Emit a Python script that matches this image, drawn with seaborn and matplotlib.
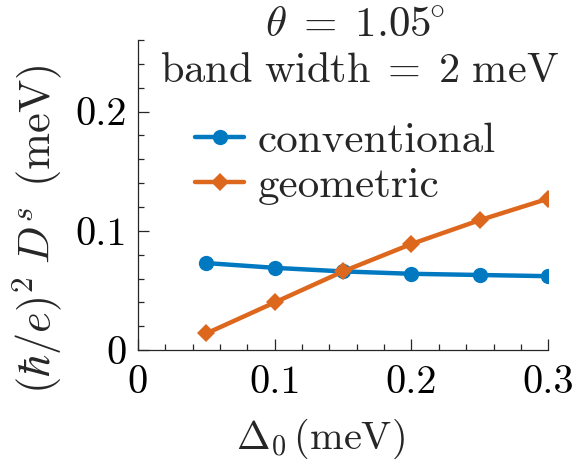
import numpy as np
import pandas as pd
import seaborn as sns
import matplotlib.pyplot as plt
from matplotlib.ticker import MultipleLocator

# ------------------- DATA -------------------

delta0 = [0.05, 0.10, 0.15, 0.20, 0.25, 0.30]
conventional = [0.073, 0.069, 0.066, 0.064, 0.063, 0.062]
geometric = [0.014, 0.040, 0.066, 0.089, 0.109, 0.127]
series_names = ["conventional", "geometric"]
x_ticks = [0, 0.1, 0.2, 0.3]
y_ticks = [0, 0.1, 0.2]

df = pd.DataFrame({
    "delta0": delta0 * 2,
    "Ds": conventional + geometric,
    "kind": [series_names[0]] * len(delta0) + [series_names[1]] * len(delta0),
})

# ------------------- STYLE -------------------

sns.set_style("ticks")
plt.rcParams["font.family"] = ["cmr10", "DejaVu Serif"]
plt.rcParams["mathtext.fontset"] = "cm"
plt.rcParams["axes.unicode_minus"] = False
plt.rcParams["axes.formatter.use_mathtext"] = True

blue = "#0079C1"
orange = "#DE671E"

# ------------------- PLOT -------------------

fig = plt.figure(figsize=(5.82, 4.65), dpi=100)
ax = fig.add_axes([0.237, 0.247, 0.705, 0.667])

sns.lineplot(
    data=df, x="delta0", y="Ds", hue="kind", style="kind",
    palette={"conventional": blue, "geometric": orange},
    markers={"conventional": "o", "geometric": "D"},
    dashes=False, linewidth=3.2, markersize=11, markeredgewidth=0,
    ax=ax,
)
# diamonds a bit smaller than the circles
for ln in ax.lines:
    if ln.get_marker() == "D":
        ln.set_markersize(9.6)

ax.set_xlim(0, 0.3)
ax.set_ylim(0, 0.26)
ax.set_xticks(x_ticks)
ax.set_xticklabels(["0", "0.1", "0.2", "0.3"])
ax.set_yticks(y_ticks)
ax.set_yticklabels(["0", "0.1", "0.2"])
ax.xaxis.set_minor_locator(MultipleLocator(0.02))
ax.yaxis.set_minor_locator(MultipleLocator(0.02))
ax.tick_params(which="major", direction="in", length=8, width=0.9, labelsize=29,
               colors="#262626", labelcolor="black")
ax.tick_params(axis="x", which="major", pad=11)
ax.tick_params(axis="y", which="major", pad=8)
ax.tick_params(which="minor", direction="in", length=4, width=0.9, colors="#262626")
for s in ["top", "right"]:
    ax.spines[s].set_visible(False)
for s in ["left", "bottom"]:
    ax.spines[s].set_color("#262626")
    ax.spines[s].set_linewidth(0.9)

ax.set_xlabel(r"$\Delta_0\,(\mathrm{meV})$", fontsize=29)
ax.xaxis.set_label_coords(0.444, -0.215)
ax.set_ylabel(r"$(\hbar/e)^2\;D^s\;\,(\mathrm{meV})$", fontsize=32)
ax.yaxis.set_label_coords(-0.18, 0.39)

ax.text(0.53, 1.045, r"$\theta\;=\;1.05^{\!\!\circ}$", transform=ax.transAxes,
        ha="center", va="center", fontsize=31)
ax.text(0.54, 0.9, r"$\mathrm{band\ width}\;=\;2\ \mathrm{meV}$", transform=ax.transAxes,
        ha="center", va="center", fontsize=30.5)

leg = ax.legend(loc="upper left", bbox_to_anchor=(0.139, 0.735), frameon=False,
                fontsize=31, handlelength=1.15, handletextpad=0.3,
                labelspacing=0.15, borderpad=0, borderaxespad=0)
for h in leg.legend_handles:
    h.set_linewidth(3.2)

plt.savefig("out.png", dpi=100)
